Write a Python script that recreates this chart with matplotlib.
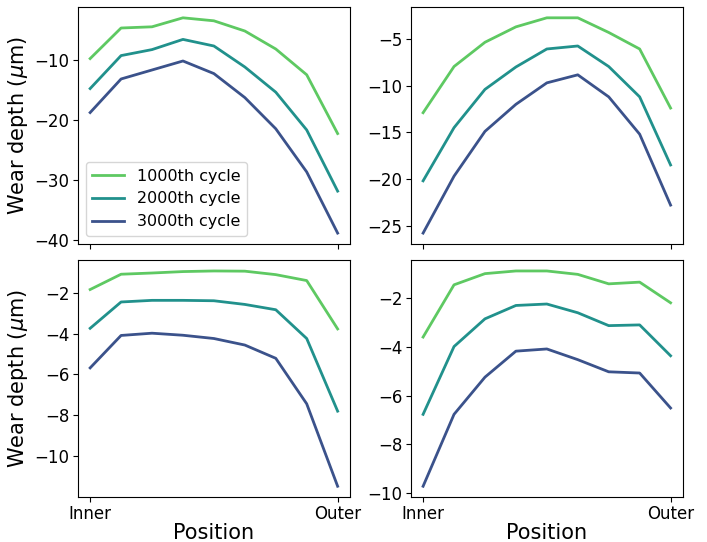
import matplotlib.pyplot as plt

positions = list(range(9))
tick_labels = ['Inner', 'Outer']
cycles = ['1000th cycle', '2000th cycle', '3000th cycle']
colors = ['#5ec962', '#21918c', '#3b528b']

# wear depth per panel, one list per cycle count
panel_a = [
    [-9.8, -4.7, -4.5, -3.0, -3.5, -5.2, -8.2, -12.5, -22.3],
    [-14.8, -9.3, -8.3, -6.6, -7.7, -11.2, -15.4, -21.7, -31.9],
    [-18.8, -13.2, -11.7, -10.2, -12.3, -16.3, -21.5, -28.7, -38.9],
]
panel_b = [
    [-12.9, -7.95, -5.35, -3.7, -2.73, -2.73, -4.3, -6.07, -12.4],
    [-20.2, -14.5, -10.4, -8.0, -6.07, -5.75, -7.95, -11.2, -18.5],
    [-25.8, -19.7, -14.9, -12.0, -9.7, -8.84, -11.2, -15.2, -22.8],
]
panel_c = [
    [-1.84, -1.09, -1.03, -0.96, -0.93, -0.94, -1.11, -1.40, -3.77],
    [-3.74, -2.45, -2.37, -2.37, -2.39, -2.57, -2.83, -4.24, -7.80],
    [-5.68, -4.09, -3.98, -4.08, -4.24, -4.56, -5.21, -7.44, -11.48],
]
panel_d = [
    [-3.59, -1.44, -0.98, -0.87, -0.87, -1.01, -1.40, -1.33, -2.18],
    [-6.77, -3.98, -2.84, -2.29, -2.23, -2.59, -3.12, -3.09, -4.36],
    [-9.73, -6.77, -5.24, -4.17, -4.08, -4.52, -5.02, -5.07, -6.51],
]

fig, axes = plt.subplots(2, 2, sharex=True, figsize=(7.07, 5.42), dpi=100)
fig.subplots_adjust(left=0.11, right=0.966, top=0.987, bottom=0.083,
                    wspace=0.223, hspace=0.069)

for ax, data in zip(axes.flat, [panel_a, panel_b, panel_c, panel_d]):
    for vals, lab, c in zip(data, cycles, colors):
        ax.plot(positions, vals, color=c, lw=2, label=lab)
    ax.tick_params(labelsize=12, pad=2.5)

axes[0, 0].legend(loc='lower left', fontsize=11.5)
for ax in axes[:, 0]:
    ax.set_ylabel('Wear depth ($\\mu$m)', fontsize=15, labelpad=3)
for ax in axes[1, :]:
    ax.set_xlabel('Position', fontsize=15, labelpad=0)
    ax.set_xticks([positions[0], positions[-1]])
    ax.set_xticklabels(tick_labels)

axes[0, 0].set_yticks([-10, -20, -30, -40])
axes[0, 1].set_yticks([-5, -10, -15, -20, -25])
axes[1, 0].set_yticks([-2, -4, -6, -8, -10])
axes[1, 1].set_yticks([-2, -4, -6, -8, -10])

plt.savefig('out.png')
